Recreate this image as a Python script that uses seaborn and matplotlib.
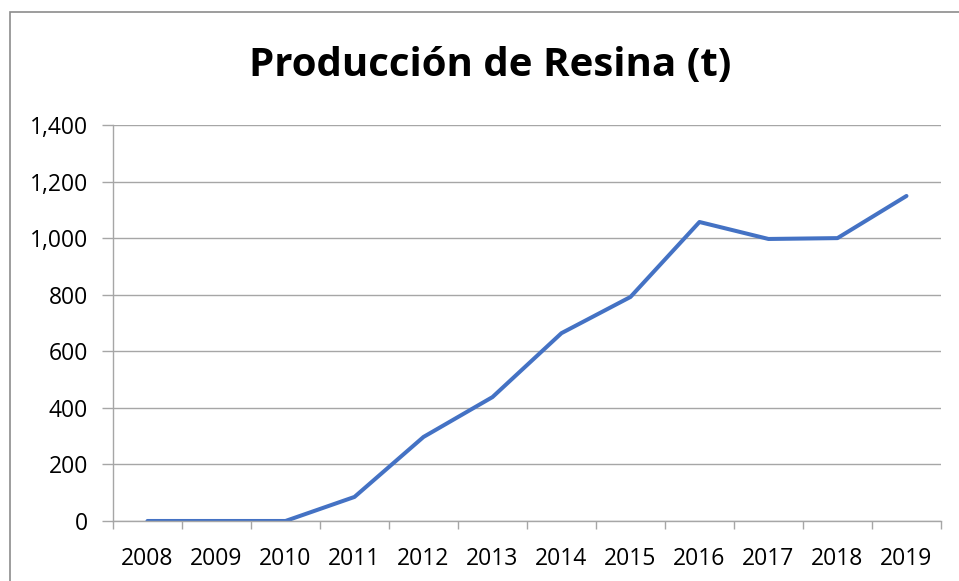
import pandas as pd
import matplotlib.pyplot as plt
import matplotlib.ticker as mticker
import seaborn as sns

# data
years = ['2008', '2009', '2010', '2011', '2012', '2013', '2014', '2015',
         '2016', '2017', '2018', '2019']
produccion = [0, 0, 0, 85, 297, 438, 664, 792, 1057, 997, 1000, 1149]

df = pd.DataFrame({'Año': years, 'Produccion': produccion})

sns.set_style('white')
plt.rcParams['font.family'] = ['Open Sans', 'DejaVu Sans']
plt.rcParams['text.color'] = 'black'
plt.rcParams['xtick.labelcolor'] = 'black'
plt.rcParams['ytick.labelcolor'] = 'black'

fig = plt.figure(figsize=(9.59, 5.81), dpi=100)
ax = fig.add_axes([0.1178, 0.1033, 0.8634, 0.6816])

sns.lineplot(data=df, x='Año', y='Produccion', ax=ax, color='#4472C4',
             linewidth=2.9, sort=False)

ax.set_xlim(-0.5, len(years) - 0.5)
ax.set_ylim(0, 1400)
ax.yaxis.set_major_locator(mticker.MultipleLocator(200))
ax.yaxis.set_major_formatter(mticker.FuncFormatter(lambda v, p: f'{int(v):,}'))
ax.grid(axis='y', color='#A6A6A6', linewidth=1)
ax.set_axisbelow(True)

# tick marks between categories, like Excel
ax.set_xticks(range(len(years)))
ax.set_xticklabels(years)
ax.set_xticks([i - 0.5 for i in range(len(years) + 1)], minor=True)
ax.tick_params(axis='x', which='major', length=0, pad=19, labelsize=16.5,
               labelcolor='black')
ax.tick_params(axis='x', which='minor', length=6, color='#A6A6A6', width=1,
               direction='out', bottom=True)
ax.tick_params(axis='y', length=8, color='#A6A6A6', width=1, left=True,
               labelsize=16.5, pad=10, labelcolor='black')

for s in ['top', 'right']:
    ax.spines[s].set_visible(False)
for s in ['left', 'bottom']:
    ax.spines[s].set_color('#A6A6A6')
    ax.spines[s].set_linewidth(1)

ax.set_xlabel('')
ax.set_ylabel('')

fig.text(0.511, 0.888, 'Producción de Resina (t)', ha='center', va='center',
         fontsize=29, fontweight='bold', color='black')

# chart border (cropped at right and bottom)
fig.patches.append(plt.Rectangle((10 / 959, -0.1), 1.2, 1.1 - 12 / 581,
                                 transform=fig.transFigure, fill=False,
                                 edgecolor='#8C8C8C', linewidth=1.2))

fig.savefig('out.png', dpi=100)
